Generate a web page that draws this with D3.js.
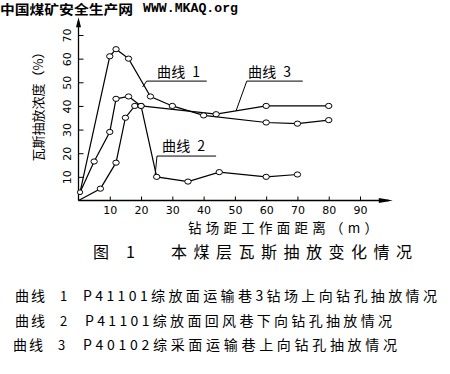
<!DOCTYPE html>
<html>
<head>
<meta charset="utf-8">
<script src="https://cdn.jsdelivr.net/npm/d3@7"></script>
<style>
  body { margin: 0; background: #fff; }
  svg { display: block; }
  .cjk { font-family: "Noto Sans CJK SC", sans-serif; }
  .tick text { font-family: "DejaVu Sans", sans-serif; font-size: 11px; fill: #000; }
</style>
</head>
<body>
<div id="chart"></div>
<script>
// values
var curve1X = [0.5, 10, 12, 16, 23, 30, 40, 60, 70, 80];
var curve1Y = [3.5, 61, 64, 60, 44, 40, 36, 33, 32.5, 34];
var curve2X = [0, 7, 12, 15, 18, 20, 25, 35, 45, 60, 70];
var curve2Y = [0, 5, 16, 35, 40, 40, 10, 8, 12, 10, 11];
var curve3X = [0.5, 5, 10, 12, 16, 20, 44, 60, 80];
var curve3Y = [3.5, 16.5, 29, 43, 44, 40, 36.5, 40, 40];
var xTicks = [10, 20, 30, 40, 50, 60, 70, 80, 90];
var yTicks = [10, 20, 30, 40, 50, 60, 70];
var curveNames = ["曲线  1", "曲线  2", "曲线  3"];
var legendNums = ["1", "2", "3"];
var legendTexts = ["P41101综放面运输巷3钻场上向钻孔抽放情况",
                   "P41101综放面回风巷下向钻孔抽放情况",
                   "P40102综采面运输巷上向钻孔抽放情况"];

var W = 450, H = 374;
var svg = d3.select("#chart").append("svg")
    .attr("width", W).attr("height", H);

var x = d3.scaleLinear().domain([0, 90]).range([78.5, 360]);
var y = d3.scaleLinear().domain([0, 70]).range([200.5, 35]);

// site title
svg.append("text").attr("class", "cjk")
    .attr("x", 0).attr("y", 14)
    .style("font-size", "13px").style("font-weight", "bold")
    .attr("textLength", 133).attr("lengthAdjust", "spacingAndGlyphs")
    .text("中国煤矿安全生产网");
svg.append("text")
    .attr("x", 143).attr("y", 12)
    .style("font-family", "Liberation Mono").style("font-size", "13px").style("font-weight", "bold")
    .attr("textLength", 95).attr("lengthAdjust", "spacingAndGlyphs")
    .text("WWW.MKAQ.org");

// axes
var xAxis = svg.append("g")
    .attr("transform", "translate(0," + y(0) + ")")
    .call(d3.axisBottom(x).tickValues(xTicks).tickSize(-4).tickSizeOuter(0).tickPadding(6));
xAxis.select(".domain").remove();
xAxis.selectAll("line").attr("stroke", "#000");

var yAxis = svg.append("g")
    .attr("transform", "translate(" + x(0) + ",0)")
    .call(d3.axisLeft(y).tickValues(yTicks).tickSize(-5).tickSizeOuter(0));
yAxis.select(".domain").remove();
yAxis.selectAll("line").attr("stroke", "#000");
yAxis.selectAll("text")
    .attr("x", 0).attr("y", 0).attr("dy", "0.35em")
    .attr("text-anchor", "middle")
    .attr("transform", "translate(-11,0) rotate(-90)");

var xEnd = x(100.5), yEnd = y(77.5);
svg.append("line")
    .attr("x1", x(0)).attr("y1", y(0)).attr("x2", xEnd - 4).attr("y2", y(0))
    .attr("stroke", "#000").attr("stroke-width", 1.3);
svg.append("line")
    .attr("x1", x(0)).attr("y1", y(0)).attr("x2", x(0)).attr("y2", yEnd + 4)
    .attr("stroke", "#000").attr("stroke-width", 1.3);
svg.append("path")
    .attr("d", "M" + xEnd + "," + y(0) + "L" + (xEnd - 14) + "," + (y(0) - 2.5) + "L" + (xEnd - 14) + "," + (y(0) + 2.5) + "Z")
    .attr("fill", "#000");
svg.append("path")
    .attr("d", "M" + x(0) + "," + yEnd + "L" + (x(0) - 2.5) + "," + (yEnd + 10) + "L" + (x(0) + 2.5) + "," + (yEnd + 10) + "Z")
    .attr("fill", "#000");

// y label
svg.append("text").attr("class", "cjk")
    .attr("transform", "translate(43," + y(41) + ") rotate(-90)")
    .attr("text-anchor", "middle")
    .style("font-size", "13px")
    .text("瓦斯抽放浓度（%）");

// curves
var curves = [
  d3.zip(curve1X, curve1Y),
  d3.zip(curve2X, curve2Y),
  d3.zip(curve3X, curve3Y)
];
var line = d3.line().x(function(d) { return x(d[0]); }).y(function(d) { return y(d[1]); });

curves.forEach(function(pts) {
  svg.append("path")
      .attr("d", line(pts))
      .attr("fill", "none")
      .attr("stroke", "#000")
      .attr("stroke-width", 1.2);
});
curves.forEach(function(pts) {
  svg.selectAll(null)
      .data(pts.filter(function(d) { return d[0] >= 1; }))
      .enter().append("ellipse")
      .attr("cx", function(d) { return x(d[0]); })
      .attr("cy", function(d) { return y(d[1]); })
      .attr("rx", 3.2).attr("ry", 2.6)
      .attr("fill", "#fff").attr("stroke", "#000").attr("stroke-width", 1);
});
// small marker at origin end of curves 1 and 3
svg.append("ellipse")
    .attr("cx", x(curve1X[0])).attr("cy", y(curve1Y[0]))
    .attr("rx", 2.6).attr("ry", 2.4)
    .attr("fill", "#fff").attr("stroke", "#000");

// curve labels with underline and leader
var labels = [
  {t: curveNames[0], tx: 25.1, ty: 52.4, u0: 21.8, u1: 41, uy: 50.5, lx: 20.5, ly: 48},
  {t: curveNames[1], tx: 26.7, ty: 21, u0: 25.1, u1: 44, uy: 18.8, lx: 24.5, ly: 10.8},
  {t: curveNames[2], tx: 54.2, ty: 52.4, u0: 53.8, u1: 71.7, uy: 50.5, lx: 50.4, ly: 38}
];
labels.forEach(function(l) {
  svg.append("text").attr("class", "cjk")
      .attr("x", x(l.tx)).attr("y", y(l.ty))
      .style("font-size", "14px")
      .style("white-space", "pre")
      .attr("textLength", 43).attr("lengthAdjust", "spacing")
      .text(l.t);
  svg.append("line")
      .attr("x1", x(l.u0)).attr("x2", x(l.u1)).attr("y1", y(l.uy)).attr("y2", y(l.uy))
      .attr("stroke", "#000");
  svg.append("line")
      .attr("x1", x(l.u0)).attr("x2", x(l.lx)).attr("y1", y(l.uy)).attr("y2", y(l.ly))
      .attr("stroke", "#000");
});

// x label and figure caption
svg.append("text").attr("class", "cjk")
    .attr("x", 188).attr("y", 233)
    .style("font-size", "13.5px")
    .attr("textLength", 190).attr("lengthAdjust", "spacing")
    .text("钻场距工作面距离（m）");
svg.append("text").attr("class", "cjk")
    .attr("x", 93).attr("y", 258)
    .style("font-size", "16px")
    .text("图");
svg.append("text").attr("class", "cjk")
    .attr("x", 126).attr("y", 258)
    .style("font-size", "16px")
    .text("1");
svg.append("text").attr("class", "cjk")
    .attr("x", 171).attr("y", 258)
    .style("font-size", "16px")
    .attr("textLength", 241).attr("lengthAdjust", "spacing")
    .text("本煤层瓦斯抽放变化情况");

// legend
var rowY = [301, 326, 350];
var textX = [83, 85, 83];
var textLen = [354, 307, 314];
legendTexts.forEach(function(t, i) {
  svg.append("text").attr("class", "cjk")
      .attr("x", i === 2 ? 13 : 15).attr("y", rowY[i])
      .style("font-size", "14px")
      .attr("textLength", 30).attr("lengthAdjust", "spacing")
      .text("曲线");
  svg.append("text").attr("class", "cjk")
      .attr("x", i === 2 ? 58 : 60).attr("y", rowY[i])
      .style("font-size", "13px")
      .text(legendNums[i]);
  svg.append("text").attr("class", "cjk")
      .attr("x", textX[i]).attr("y", rowY[i])
      .style("font-size", "14px")
      .attr("textLength", textLen[i]).attr("lengthAdjust", "spacing")
      .text(t);
});
</script>
</body>
</html>
